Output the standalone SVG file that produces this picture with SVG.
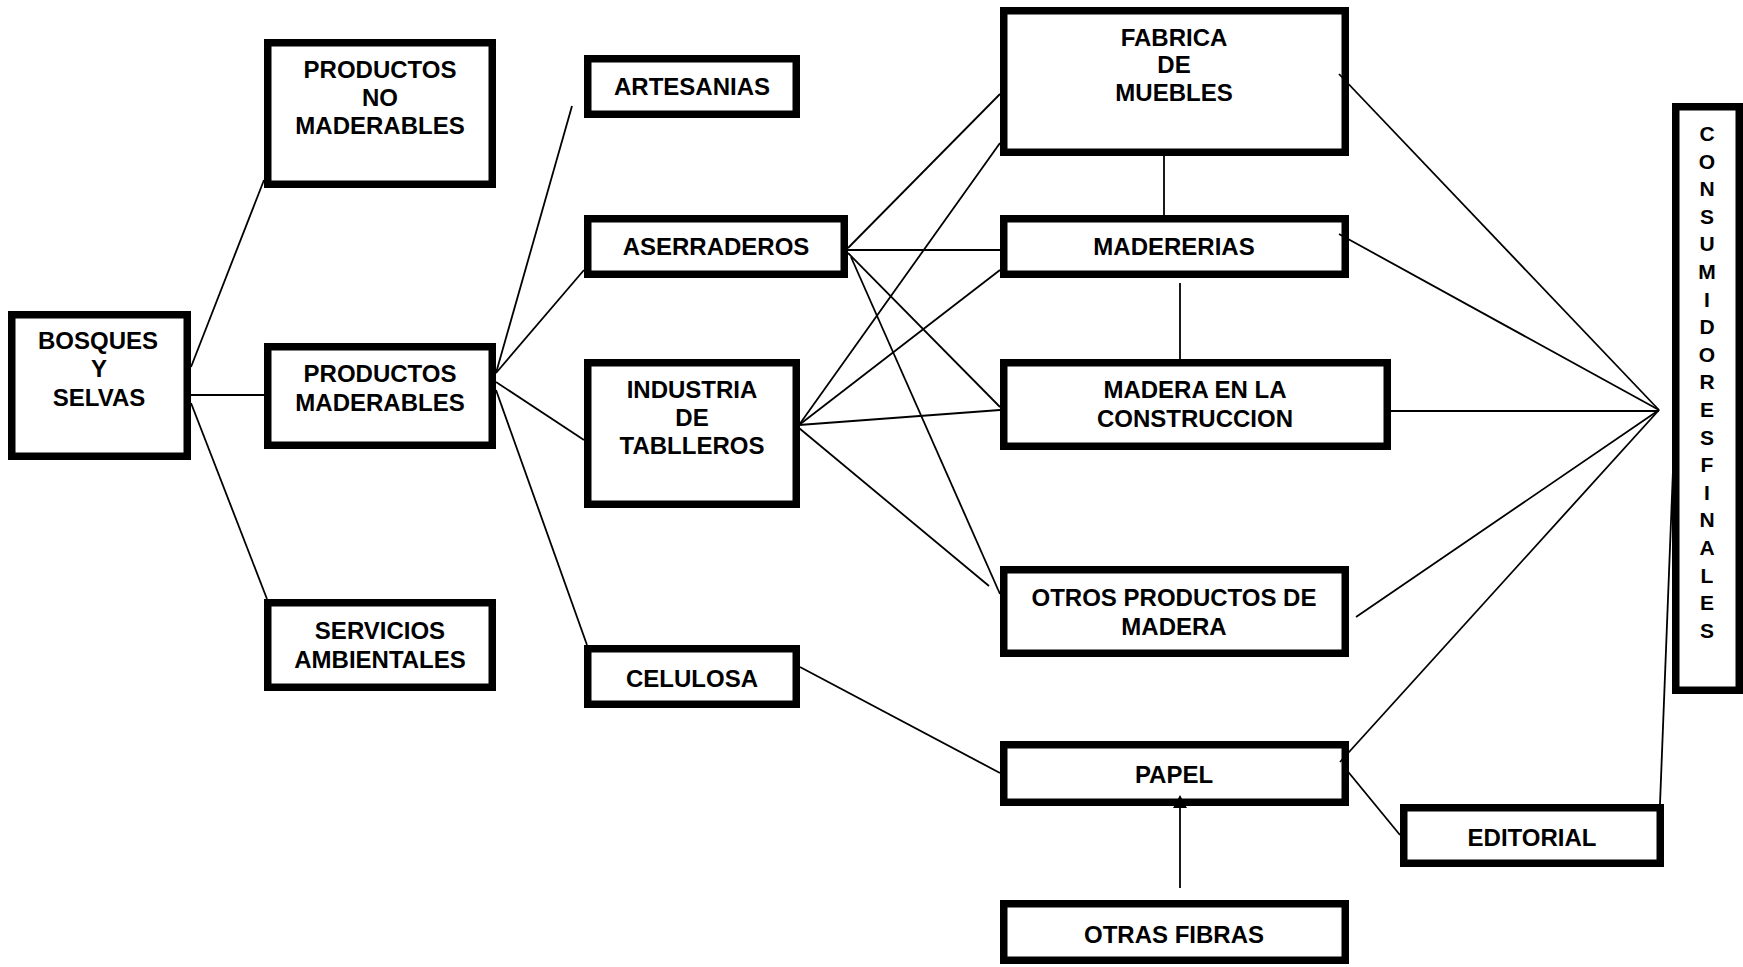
<svg xmlns="http://www.w3.org/2000/svg" width="1743" height="967" viewBox="0 0 1743 967">
<style>
.box{fill:#fff;stroke:#000;stroke-width:7.5}
.t{font-family:"Liberation Sans",Arial,sans-serif;font-weight:bold;font-size:24px;text-anchor:middle;fill:#000}
.v{font-family:"Liberation Sans",Arial,sans-serif;font-weight:bold;font-size:21px;text-anchor:middle;fill:#000}
.c line{stroke:#000;stroke-width:1.8}
</style>
<rect width="1743" height="967" fill="#fff"/>
<g id="bosques"><rect class="box" x="11.75" y="314.75" width="175.5" height="141.5"/>
<text class="t" x="98" y="349">BOSQUES</text><text class="t" x="99" y="377">Y</text><text class="t" x="99" y="406">SELVAS</text></g>
<g id="pnm"><rect class="box" x="267.75" y="42.75" width="224.5" height="141.5"/>
<text class="t" x="380" y="78">PRODUCTOS</text><text class="t" x="380" y="106">NO</text><text class="t" x="380" y="134">MADERABLES</text></g>
<g id="pm"><rect class="box" x="267.75" y="346.75" width="224.5" height="98.5"/>
<text class="t" x="380" y="382">PRODUCTOS</text><text class="t" x="380" y="411">MADERABLES</text></g>
<g id="serv"><rect class="box" x="267.75" y="602.75" width="224.5" height="84.5"/>
<text class="t" x="380" y="639">SERVICIOS</text><text class="t" x="380" y="668">AMBIENTALES</text></g>
<g id="artesanias"><rect class="box" x="587.75" y="58.75" width="208.5" height="55.5"/>
<text class="t" x="692" y="95">ARTESANIAS</text></g>
<g id="aserraderos"><rect class="box" x="587.75" y="218.75" width="256.5" height="55.5"/>
<text class="t" x="716" y="255">ASERRADEROS</text></g>
<g id="industria"><rect class="box" x="587.75" y="362.75" width="208.5" height="141.5"/>
<text class="t" x="692" y="398">INDUSTRIA</text><text class="t" x="692" y="426">DE</text><text class="t" x="692" y="454">TABLLEROS</text></g>
<g id="celulosa"><rect class="box" x="587.75" y="648.75" width="208.5" height="55.5"/>
<text class="t" x="692" y="687">CELULOSA</text></g>
<g id="fabrica"><rect class="box" x="1003.75" y="10.75" width="341.5" height="141.5"/>
<text class="t" x="1174" y="46">FABRICA</text><text class="t" x="1174" y="73">DE</text><text class="t" x="1174" y="101">MUEBLES</text></g>
<g id="madererias"><rect class="box" x="1003.75" y="218.75" width="341.5" height="55.5"/>
<text class="t" x="1174" y="255">MADERERIAS</text></g>
<g id="madera"><rect class="box" x="1003.75" y="362.75" width="383.5" height="83.5"/>
<text class="t" x="1195" y="398">MADERA EN LA</text><text class="t" x="1195" y="427">CONSTRUCCION</text></g>
<g id="otros"><rect class="box" x="1003.75" y="569.75" width="341.5" height="83.5"/>
<text class="t" x="1174" y="606">OTROS PRODUCTOS DE</text><text class="t" x="1174" y="635">MADERA</text></g>
<g id="papel"><rect class="box" x="1003.75" y="744.75" width="341.5" height="57.5"/>
<text class="t" x="1174" y="783">PAPEL</text></g>
<g id="otrasfibras"><rect class="box" x="1003.75" y="903.75" width="341.5" height="56.5"/>
<text class="t" x="1174" y="943">OTRAS FIBRAS</text></g>
<g id="editorial"><rect class="box" x="1403.75" y="807.75" width="256.5" height="55.5"/>
<text class="t" x="1532" y="846">EDITORIAL</text></g>
<g id="consumidores"><rect class="box" x="1675.75" y="106.75" width="63.5" height="583.5"/>
<text class="v" x="1707" y="141">C</text><text class="v" x="1707" y="168.6">O</text><text class="v" x="1707" y="196.2">N</text><text class="v" x="1707" y="223.8">S</text><text class="v" x="1707" y="251.4">U</text><text class="v" x="1707" y="279">M</text><text class="v" x="1707" y="306.6">I</text><text class="v" x="1707" y="334.2">D</text><text class="v" x="1707" y="361.8">O</text><text class="v" x="1707" y="389.4">R</text><text class="v" x="1707" y="417">E</text><text class="v" x="1707" y="444.6">S</text><text class="v" x="1707" y="472.2">F</text><text class="v" x="1707" y="499.8">I</text><text class="v" x="1707" y="527.4">N</text><text class="v" x="1707" y="555">A</text><text class="v" x="1707" y="582.6">L</text><text class="v" x="1707" y="610.2">E</text><text class="v" x="1707" y="637.8">S</text></g>
<g class="c" id="connectors">
<line x1="191" y1="367" x2="264" y2="180"/>
<line x1="191" y1="395" x2="264" y2="395"/>
<line x1="191" y1="403" x2="267" y2="599"/>
<line x1="496" y1="373" x2="572" y2="106"/>
<line x1="496" y1="373" x2="584" y2="270"/>
<line x1="496" y1="382" x2="584" y2="440"/>
<line x1="496" y1="390" x2="587" y2="645"/>
<line x1="848" y1="248" x2="1000" y2="94"/>
<line x1="848" y1="250" x2="1000" y2="250"/>
<line x1="848" y1="253" x2="1000" y2="407"/>
<line x1="851" y1="257" x2="1000" y2="594"/>
<line x1="799" y1="425" x2="1000" y2="143"/>
<line x1="799" y1="425" x2="1000" y2="270"/>
<line x1="799" y1="425" x2="1000" y2="410"/>
<line x1="799" y1="428" x2="989" y2="586"/>
<line x1="800" y1="667" x2="1000" y2="773"/>
<line x1="1164" y1="156" x2="1164" y2="215"/>
<line x1="1180" y1="283" x2="1180" y2="359"/>
<line x1="1339" y1="74" x2="1659" y2="410"/>
<line x1="1339" y1="234" x2="1659" y2="410"/>
<line x1="1391" y1="411" x2="1659" y2="411"/>
<line x1="1356" y1="617" x2="1659" y2="410"/>
<line x1="1340" y1="762" x2="1659" y2="410"/>
<line x1="1345" y1="768" x2="1400" y2="835"/>
<line x1="1660" y1="804" x2="1673" y2="470"/>
<line x1="1180" y1="888" x2="1180" y2="806"/>
<polygon points="1180,795 1173,808 1187,808" fill="#000"/>
</g>
</svg>
